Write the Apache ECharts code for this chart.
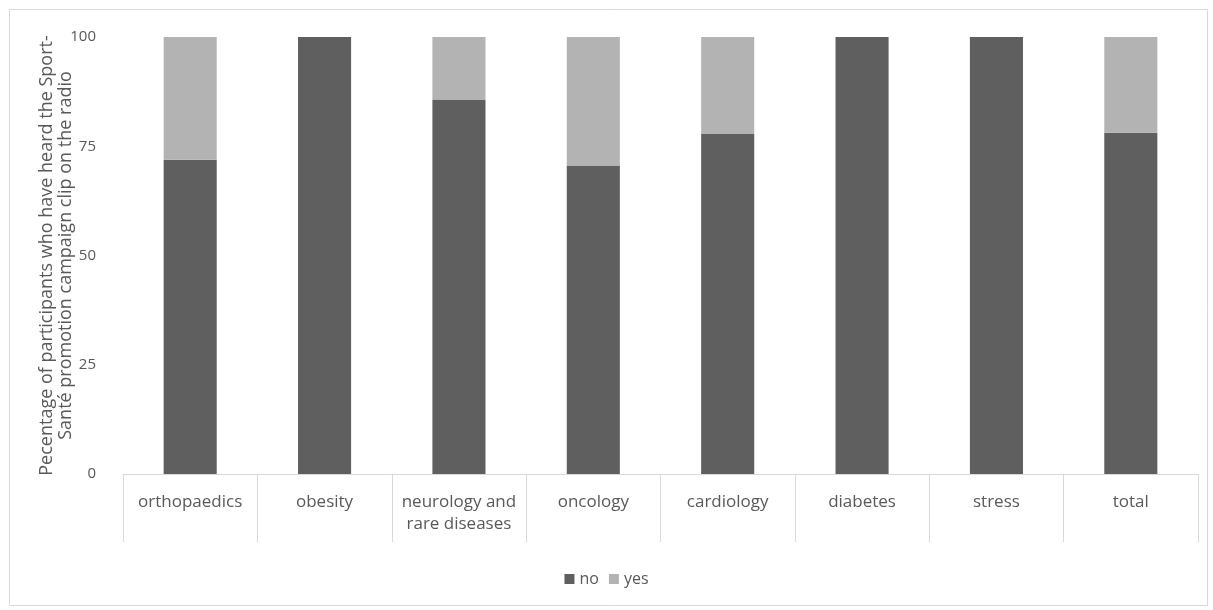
<!DOCTYPE html>
<html>
<head>
<meta charset="utf-8">
<script src="https://cdn.jsdelivr.net/npm/echarts@6/dist/echarts.min.js"></script>
<style>
  html, body { margin: 0; padding: 0; background: #fff; }
  #chart { width: 1213px; height: 610px; }
</style>
</head>
<body>
<div id="chart"></div>
<script>
// Share of participants per clinic who had / had not heard the radio clip
const categories = ['orthopaedics', 'obesity', 'neurology and\nrare diseases', 'oncology', 'cardiology', 'diabetes', 'stress', 'total'];
const noValues  = [71.9, 100, 85.7, 70.6, 77.8, 100, 100, 78.1];
const yesValues = [28.1, 0, 14.3, 29.4, 22.2, 0, 0, 21.9];
const yTicks = [0, 25, 50, 75, 100];
const seriesNames = ['no', 'yes'];

const textColor = '#595959';
const fontFamily = '"Open Sans", "Noto Sans", sans-serif';

const chart = echarts.init(document.getElementById('chart'), null, { renderer: 'canvas' });

chart.setOption({
  animation: false,
  backgroundColor: '#fff',
  textStyle: { fontFamily: fontFamily, color: textColor },
  graphic: [{
    type: 'rect',
    left: 7, top: 7,
    shape: { width: 1198, height: 596 },
    style: { fill: 'none', stroke: '#d9d9d9', lineWidth: 1 },
    silent: true
  }],
  legend: {
    data: seriesNames,
    left: 'center',
    top: 566,
    itemWidth: 10,
    itemHeight: 10,
    itemGap: 10,
    icon: 'rect',
    textStyle: { fontFamily: fontFamily, fontSize: 16, color: textColor }
  },
  grid: { left: 123, right: 15, top: 37, bottom: 136, containLabel: false },
  xAxis: {
    type: 'category',
    data: categories,
    boundaryGap: true,
    axisLine: { show: true, lineStyle: { color: '#d9d9d9', width: 1 } },
    axisTick: { show: true, length: 68, alignWithLabel: false, lineStyle: { color: '#d9d9d9' } },
    axisLabel: {
      interval: 0,
      margin: 17,
      fontFamily: fontFamily,
      fontSize: 17,
      lineHeight: 22,
      color: textColor
    },
    splitLine: { show: false }
  },
  yAxis: {
    type: 'value',
    min: yTicks[0],
    max: yTicks[yTicks.length - 1],
    interval: 25,
    axisLine: { show: false },
    axisTick: { show: false },
    splitLine: { show: false },
    axisLabel: { margin: 27, fontFamily: fontFamily, fontSize: 15, color: textColor },
    name: 'Pecentage of participants who have heard the Sport-\nSanté promotion campaign clip on the radio',
    nameLocation: 'middle',
    nameRotate: 90,
    nameGap: 48,
    nameMoveOverlap: false,
    nameTextStyle: { fontFamily: fontFamily, fontSize: 18, lineHeight: 19, color: textColor, align: 'center' }
  },
  series: [
    {
      name: seriesNames[0],
      type: 'bar',
      stack: 'heard',
      data: noValues,
      barWidth: '39.5%',
      itemStyle: { color: '#5f5f5f' }
    },
    {
      name: seriesNames[1],
      type: 'bar',
      stack: 'heard',
      data: yesValues,
      barWidth: '39.5%',
      itemStyle: { color: '#b3b3b3' }
    }
  ]
});
</script>
</body>
</html>
